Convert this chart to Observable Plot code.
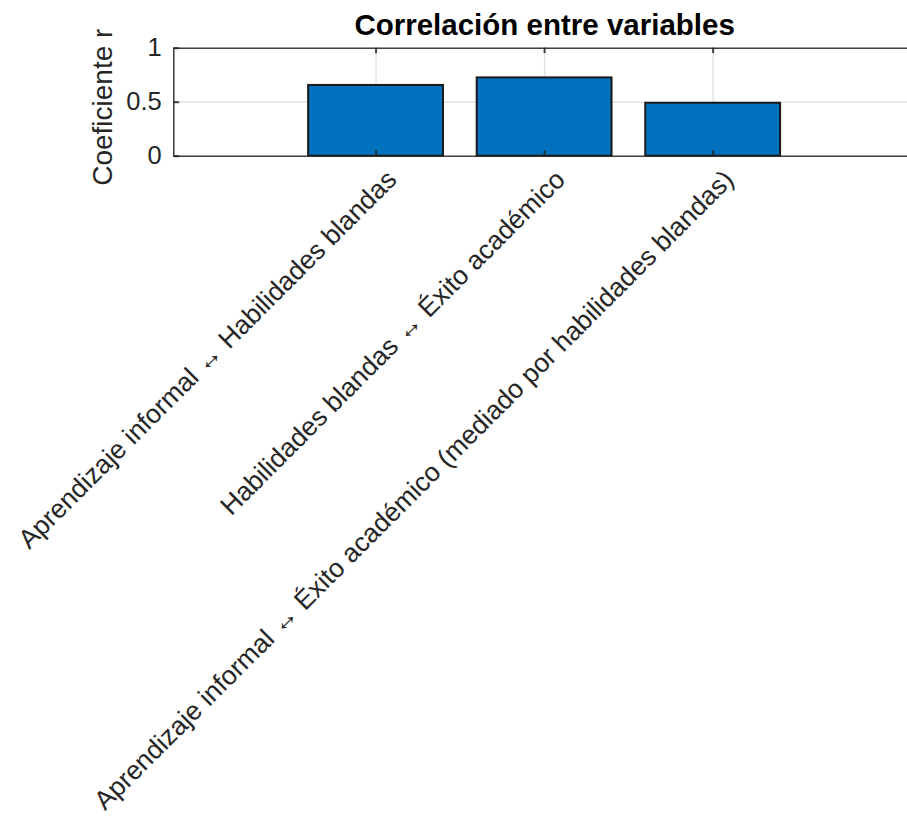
<!DOCTYPE html>
<html>
<head>
<meta charset="utf-8">
<script src="https://cdn.jsdelivr.net/npm/d3@7"></script>
<script src="https://cdn.jsdelivr.net/npm/@observablehq/plot@0.6"></script>
<style>
  html, body { margin: 0; padding: 0; background: #fff; overflow: hidden; }
  svg { display: block; }
</style>
</head>
<body>
<div id="chart"></div>
<script>
const categories = [
  "Aprendizaje informal ↔ Habilidades blandas",
  "Habilidades blandas ↔ Éxito académico",
  "Aprendizaje informal ↔ Éxito académico (mediado por habilidades blandas)"
];
const values = [0.655, 0.725, 0.49];
const yTicks = [0, 0.5, 1];
const yTickLabels = ["0", "0.5", "1"];
const titleText = "Correlación entre variables";
const yLabel = "Coeficiente r";

const data = categories.map((c, i) => ({pos: i + 1, label: c, r: values[i]}));
const xPos = data.map(d => d.pos);
const xMin = -0.2, xMax = 4.153;
const axisColor = "#262626";
const font = "'Liberation Sans', Arial, Helvetica, sans-serif";

const chart = Plot.plot({
  width: 907,
  height: 819,
  marginLeft: 173.3,
  marginRight: 0,
  marginTop: 47.7,
  marginBottom: 663.3,
  style: {fontFamily: font, background: "#fff", overflow: "visible"},
  x: {type: "linear", domain: [xMin, xMax], axis: null},
  y: {type: "linear", domain: [0, 1], axis: null},
  marks: [
    // grid
    Plot.ruleX(xPos, {y1: 0, y2: 1, stroke: axisColor, strokeOpacity: 0.13, strokeWidth: 1.5}),
    Plot.ruleY(yTicks, {x1: xMin, x2: xMax, stroke: axisColor, strokeOpacity: 0.13, strokeWidth: 1.5}),
    // bars
    Plot.rectY(data, {x1: d => d.pos - 0.4, x2: d => d.pos + 0.4, y1: () => 0, y2: "r",
      fill: "#0072BD", stroke: "#1a1a1a", strokeWidth: 2}),
    // axis box lines
    Plot.ruleY([0, 1], {x1: xMin, x2: xMax, stroke: axisColor, strokeOpacity: 0.85, strokeWidth: 1.6}),
    Plot.ruleX([xMin], {y1: 0, y2: 1, stroke: axisColor, strokeOpacity: 0.85, strokeWidth: 1.6}),
    // inside ticks (x at bottom and top, y at left)
    Plot.ruleX(xPos, {y1: 0, y2: 0.05, stroke: axisColor, strokeOpacity: 0.85, strokeWidth: 2}),
    Plot.ruleX(xPos, {y1: 0.95, y2: 1, stroke: axisColor, strokeOpacity: 0.85, strokeWidth: 2}),
    Plot.ruleY(yTicks, {x1: xMin, x2: xMin + 0.035, stroke: axisColor, strokeOpacity: 0.85, strokeWidth: 2}),
    // y tick labels
    Plot.text(yTicks, {x: () => xMin, y: d => d, text: (d, i) => yTickLabels[i],
      textAnchor: "end", lineAnchor: "middle", dx: -12, fontSize: 25.5, fill: axisColor}),
    // x tick labels rotated
    Plot.text(data, {x: "pos", y: () => 0, text: "label", rotate: -45, textAnchor: "end",
      lineAnchor: "middle", dx: 16, dy: 19, fontSize: 26.5, fill: axisColor}),
    // y label
    Plot.text([yLabel], {frameAnchor: "left", rotate: -90, textAnchor: "middle",
      lineAnchor: "bottom", dx: -62, dy: 5, fontSize: 28, fill: axisColor}),
    // title
    Plot.text([titleText], {x: () => 2, frameAnchor: "top", textAnchor: "middle",
      lineAnchor: "bottom", dy: -13, fontSize: 29.5, fontWeight: "bold", fill: "#000"})
  ]
});

document.getElementById("chart").appendChild(chart);
</script>
</body>
</html>
